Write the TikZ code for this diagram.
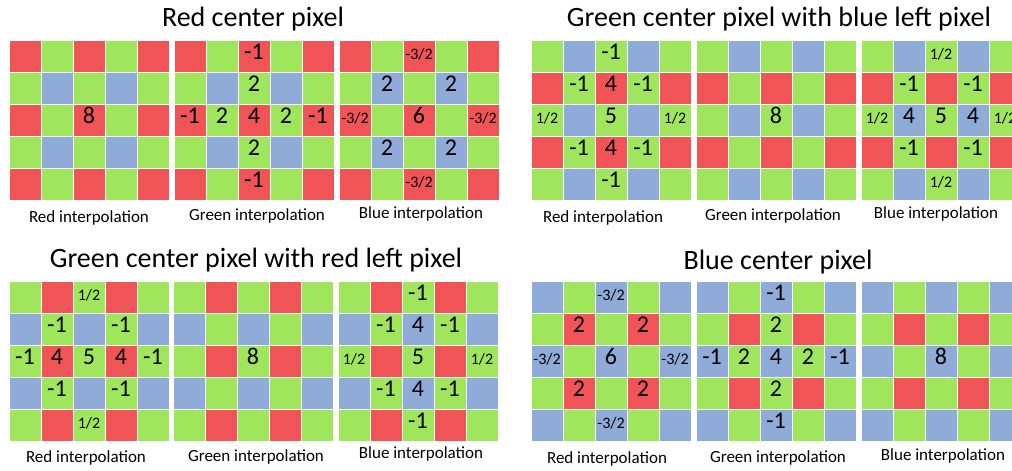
\documentclass[tikz,border=0pt]{standalone}
\usepackage{fontspec}
\setmainfont{Carlito}
\definecolor{bayerR}{RGB}{240,84,86}
\definecolor{bayerG}{RGB}{160,230,92}
\definecolor{bayerB}{RGB}{143,172,216}
\tikzset{
  cell/.style={draw=white, line width=1pt, minimum size=32pt, inner sep=0pt, outer sep=0pt},
  num/.style={font=\fontsize{24}{24}\selectfont, inner sep=0pt, text height=0.63em, text depth=0pt},
  frac/.style={font=\fontsize{16}{16}\selectfont, inner sep=0pt, text height=0.63em, text depth=0pt},
  caption/.style={font=\fontsize{17}{17}\selectfont, anchor=base, inner sep=0pt},
  heading/.style={font=\fontsize{28}{28}\selectfont, anchor=base, inner sep=0pt},
}
% 5x5 Bayer tile: #1 name, #2 left, #3 top, colours of (even row, even col),
% (even row, odd col), (odd row, even col), (odd row, odd col)
\newcommand\bayertile[7]{%
  \foreach \r in {0,...,4}{%
    \foreach \c in {0,...,4}{%
      \ifodd\r\relax
        \ifodd\c\relax\def\cellcol{#7}\else\def\cellcol{#6}\fi
      \else
        \ifodd\c\relax\def\cellcol{#5}\else\def\cellcol{#4}\fi
      \fi
      \node[cell, fill=\cellcol] (#1-\r-\c) at ({#2+32*\c+16},{#3+32*\r+16}) {};
    }%
  }%
}
\newcommand\val[3]{\node[#1] (#2-v) at (#2) {#3};}
\begin{document}
\begin{tikzpicture}[x=1pt, y=-1pt]
\clip (0,0) rectangle (1012,471);
\fill[white] (0,0) rectangle (1012,471);

% ---------------- Red center pixel ----------------
\node[heading] (t1) at (253,27) {Red center pixel};
\bayertile{a1}{9}{40}{bayerR}{bayerG}{bayerG}{bayerB}
\bayertile{a2}{174}{40}{bayerR}{bayerG}{bayerG}{bayerB}
\bayertile{a3}{339}{40}{bayerR}{bayerG}{bayerG}{bayerB}
\val{num}{a1-2-2}{8}
\val{num}{a2-0-2}{-1}
\val{num}{a2-1-2}{2}
\val{num}{a2-2-0}{-1}
\val{num}{a2-2-1}{2}
\val{num}{a2-2-2}{4}
\val{num}{a2-2-3}{2}
\val{num}{a2-2-4}{-1}
\val{num}{a2-3-2}{2}
\val{num}{a2-4-2}{-1}
\val{frac}{a3-0-2}{-3/2}
\val{num}{a3-1-1}{2}
\val{num}{a3-1-3}{2}
\val{frac}{a3-2-0}{-3/2}
\val{num}{a3-2-2}{6}
\val{frac}{a3-2-4}{-3/2}
\val{num}{a3-3-1}{2}
\val{num}{a3-3-3}{2}
\val{frac}{a3-4-2}{-3/2}
\node[caption] (a1-cap) at (89,222) {Red interpolation};
\node[caption] (a2-cap) at (257,220) {Green interpolation};
\node[caption] (a3-cap) at (421,218) {Blue interpolation};

% ---------------- Green center pixel, blue left ----------------
\node[heading] (t2) at (779,27) {Green center pixel with blue left pixel};
\bayertile{b1}{531}{40}{bayerG}{bayerB}{bayerR}{bayerG}
\bayertile{b2}{696}{40}{bayerG}{bayerB}{bayerR}{bayerG}
\bayertile{b3}{861}{40}{bayerG}{bayerB}{bayerR}{bayerG}
\val{num}{b1-0-2}{-1}
\val{num}{b1-1-1}{-1}
\val{num}{b1-1-2}{4}
\val{num}{b1-1-3}{-1}
\val{frac}{b1-2-0}{1/2}
\val{num}{b1-2-2}{5}
\val{frac}{b1-2-4}{1/2}
\val{num}{b1-3-1}{-1}
\val{num}{b1-3-2}{4}
\val{num}{b1-3-3}{-1}
\val{num}{b1-4-2}{-1}
\val{num}{b2-2-2}{8}
\val{frac}{b3-0-2}{1/2}
\val{num}{b3-1-1}{-1}
\val{num}{b3-1-3}{-1}
\val{frac}{b3-2-0}{1/2}
\val{num}{b3-2-1}{4}
\val{num}{b3-2-2}{5}
\val{num}{b3-2-3}{4}
\val{frac}{b3-2-4}{1/2}
\val{num}{b3-3-1}{-1}
\val{num}{b3-3-3}{-1}
\val{frac}{b3-4-2}{1/2}
\node[caption] (b1-cap) at (603,222) {Red interpolation};
\node[caption] (b2-cap) at (773,220) {Green interpolation};
\node[caption] (b3-cap) at (936,218) {Blue interpolation};

% ---------------- Green center pixel, red left ----------------
\node[heading] (t3) at (256,267) {Green center pixel with red left pixel};
\bayertile{c1}{9}{281}{bayerG}{bayerR}{bayerB}{bayerG}
\bayertile{c2}{173}{281}{bayerG}{bayerR}{bayerB}{bayerG}
\bayertile{c3}{338}{281}{bayerG}{bayerR}{bayerB}{bayerG}
\val{frac}{c1-0-2}{1/2}
\val{num}{c1-1-1}{-1}
\val{num}{c1-1-3}{-1}
\val{num}{c1-2-0}{-1}
\val{num}{c1-2-1}{4}
\val{num}{c1-2-2}{5}
\val{num}{c1-2-3}{4}
\val{num}{c1-2-4}{-1}
\val{num}{c1-3-1}{-1}
\val{num}{c1-3-3}{-1}
\val{frac}{c1-4-2}{1/2}
\val{num}{c2-2-2}{8}
\val{num}{c3-0-2}{-1}
\val{num}{c3-1-1}{-1}
\val{num}{c3-1-2}{4}
\val{num}{c3-1-3}{-1}
\val{frac}{c3-2-0}{1/2}
\val{num}{c3-2-2}{5}
\val{frac}{c3-2-4}{1/2}
\val{num}{c3-3-1}{-1}
\val{num}{c3-3-2}{4}
\val{num}{c3-3-3}{-1}
\val{num}{c3-4-2}{-1}
\node[caption] (c1-cap) at (86,462) {Red interpolation};
\node[caption] (c2-cap) at (256,461) {Green interpolation};
\node[caption] (c3-cap) at (421,458) {Blue interpolation};

% ---------------- Blue center pixel ----------------
\node[heading] (t4) at (778,269) {Blue center pixel};
\bayertile{d1}{531}{281}{bayerB}{bayerG}{bayerG}{bayerR}
\bayertile{d2}{696}{281}{bayerB}{bayerG}{bayerG}{bayerR}
\bayertile{d3}{861}{281}{bayerB}{bayerG}{bayerG}{bayerR}
\val{frac}{d1-0-2}{-3/2}
\val{num}{d1-1-1}{2}
\val{num}{d1-1-3}{2}
\val{frac}{d1-2-0}{-3/2}
\val{num}{d1-2-2}{6}
\val{frac}{d1-2-4}{-3/2}
\val{num}{d1-3-1}{2}
\val{num}{d1-3-3}{2}
\val{frac}{d1-4-2}{-3/2}
\val{num}{d2-0-2}{-1}
\val{num}{d2-1-2}{2}
\val{num}{d2-2-0}{-1}
\val{num}{d2-2-1}{2}
\val{num}{d2-2-2}{4}
\val{num}{d2-2-3}{2}
\val{num}{d2-2-4}{-1}
\val{num}{d2-3-2}{2}
\val{num}{d2-4-2}{-1}
\val{num}{d3-2-2}{8}
\node[caption] (d1-cap) at (607,463) {Red interpolation};
\node[caption] (d2-cap) at (778,462) {Green interpolation};
\node[caption] (d3-cap) at (943,460) {Blue interpolation};
\end{tikzpicture}
\end{document}
